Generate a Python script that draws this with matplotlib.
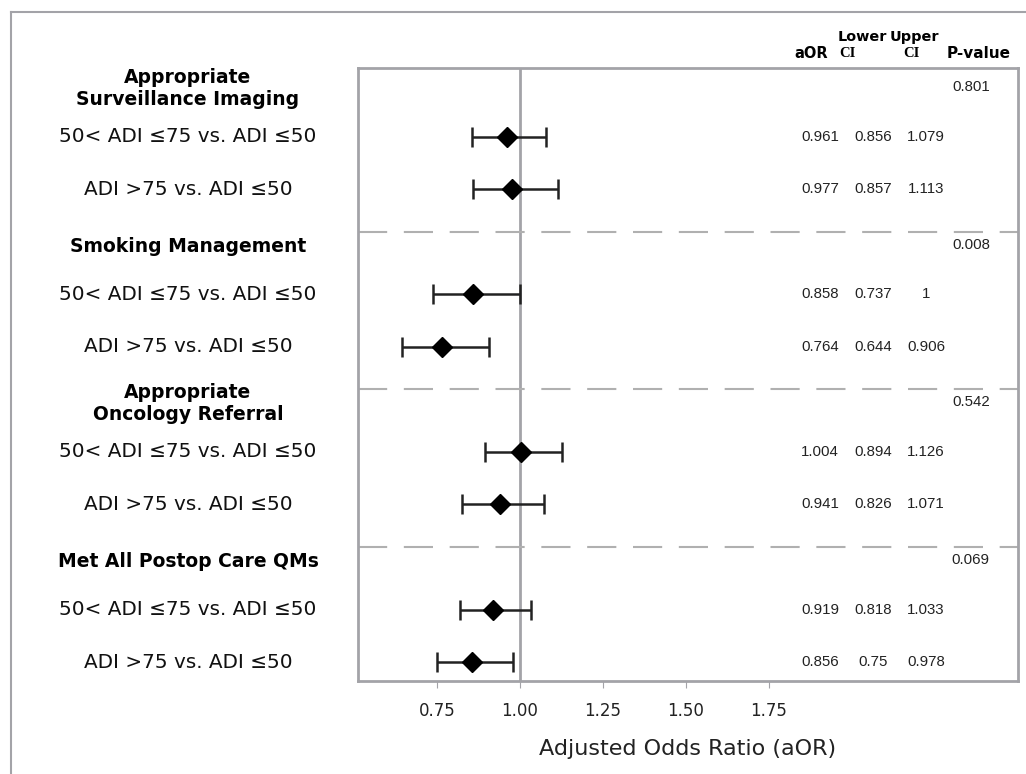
import matplotlib
matplotlib.use("Agg")
import matplotlib.pyplot as plt
import matplotlib.transforms as mtransforms
from matplotlib.lines import Line2D

# Data

groupNames = ["Appropriate\nSurveillance Imaging", "Smoking Management",
              "Appropriate\nOncology Referral", "Met All Postop Care QMs"]
comparisons = ["50< ADI \u226475 vs. ADI \u226450", "ADI >75 vs. ADI \u226450"]
aorValues = [0.961, 0.977, 0.858, 0.764, 1.004, 0.941, 0.919, 0.856]
lowerCI = [0.856, 0.857, 0.737, 0.644, 0.894, 0.826, 0.818, 0.75]
upperCI = [1.079, 1.113, 1, 0.906, 1.126, 1.071, 1.033, 0.978]
pValues = ["0.801", "0.008", "0.542", "0.069"]
xTicks = [0.75, 1.00, 1.25, 1.50, 1.75]

# Row layout: one header row and two comparison rows per group
headerRows = [3 * g for g in range(len(groupNames))]
dataRows = [3 * g + 1 + k for g in range(len(groupNames)) for k in range(len(comparisons))]
rowLabels = [comparisons[k] for g in range(len(groupNames)) for k in range(len(comparisons))]

grey = "#a3a3a8"
valueFont = "Liberation Sans"

fig = plt.figure(figsize=(10.26, 7.74), dpi=100)
ax = fig.add_axes([0.3489, 0.1202, 0.9922 - 0.3489, 0.9121 - 0.1202])

# Outer frame (top and left edges visible)
fig.add_artist(Line2D([11 / 1026, 1.0], [1 - 12 / 774, 1 - 12 / 774],
                      transform=fig.transFigure, color=grey, lw=1.5))
fig.add_artist(Line2D([11 / 1026, 11 / 1026], [0.0, 1 - 12 / 774],
                      transform=fig.transFigure, color=grey, lw=1.5))

# Reference line at 1
ax.axvline(1.0, color=grey, lw=2, zorder=1)

# Dashed separators between the groups
for h in headerRows[1:]:
    ax.axhline(h - 0.19, color="#b0b0b0", lw=1.5, dashes=(14, 8), zorder=1)

# Point estimates with confidence intervals
xerrLow = [a - l for a, l in zip(aorValues, lowerCI)]
xerrHigh = [u - a for a, u in zip(aorValues, upperCI)]
ax.errorbar(aorValues, dataRows, xerr=[xerrLow, xerrHigh], fmt="D", color="black",
            ecolor="#222222", elinewidth=1.8, capsize=7, capthick=1.8,
            markersize=10, zorder=3)

ax.set_xlim(0.512, 2.5)
ax.set_ylim(11.36, -0.31)
ax.set_xticks(xTicks)
ax.set_xticklabels(["{:.2f}".format(t) for t in xTicks], fontsize=12, color="#222222")
ax.set_yticks([])
ax.tick_params(axis="x", length=5, color=grey, pad=10)
for spine in ax.spines.values():
    spine.set_color(grey)
    spine.set_linewidth(2)
ax.set_xlabel("Adjusted Odds Ratio (aOR)", fontsize=16, color="#222222", labelpad=14)

# Left side labels, centered in the left margin
leftTrans = mtransforms.blended_transform_factory(fig.transFigure, ax.transData)
for name, h in zip(groupNames, headerRows):
    ax.text(188 / 1026, h + 0.08, name, transform=leftTrans, ha="center", va="center",
            fontsize=13.5, fontweight="bold", linespacing=1.2, color="black")
for label, r in zip(rowLabels, dataRows):
    ax.text(188 / 1026, r, label, transform=leftTrans, ha="center", va="center",
            fontsize=14.4, color="#111111")

# Column headers
ax.text(1.877, -0.58, "aOR", ha="center", va="center", fontsize=10.5,
        fontweight="bold", clip_on=False)
ax.text(1.958, -0.905, "Lower", ha="left", va="center", fontsize=10.4,
        fontweight="bold", clip_on=False)
ax.text(1.962, -0.58, "CI", ha="left", va="center", fontsize=10.5,
        fontweight="bold", family="Liberation Serif", clip_on=False)
ax.text(2.112, -0.905, "Upper", ha="left", va="center", fontsize=10.4,
        fontweight="bold", clip_on=False)
ax.text(2.18, -0.58, "CI", ha="center", va="center", fontsize=10.5,
        fontweight="bold", family="Liberation Serif", clip_on=False)
ax.text(2.38, -0.58, "P-value", ha="center", va="center", fontsize=11,
        fontweight="bold", clip_on=False)

# Value columns
for a, l, u, r in zip(aorValues, lowerCI, upperCI, dataRows):
    ax.text(1.904, r, "{:g}".format(a), ha="center", va="center", fontsize=10.8,
            family=valueFont, color="#222222")
    ax.text(2.063, r, "{:g}".format(l), ha="center", va="center", fontsize=10.8,
            family=valueFont, color="#222222")
    ax.text(2.223, r, "{:g}".format(u), ha="center", va="center", fontsize=10.8,
            family=valueFont, color="#222222")
for p, h in zip(pValues, headerRows):
    ax.text(2.358, h + 0.05, p, ha="center", va="center", fontsize=10.8,
            family=valueFont, color="#222222")

fig.savefig("out.png", dpi=100)
